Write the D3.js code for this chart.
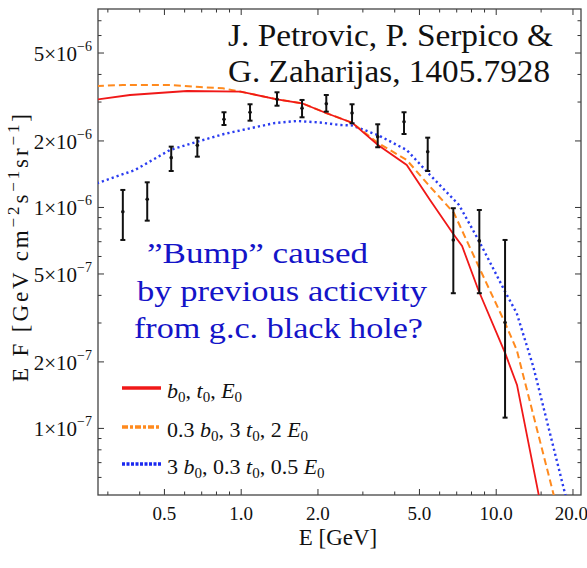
<!DOCTYPE html>
<html>
<head>
<meta charset="utf-8">
<script src="https://d3js.org/d3.v7.min.js"></script>
<style>
  body { margin: 0; background: #fff; }
  svg text { font-family: "Times New Roman", "Liberation Serif", Tinos, Times, serif; }
</style>
</head>
<body>
<script>
// measured points (E in GeV, E F in GeV cm^-2 s^-1 sr^-1)
const dataE   = [0.345, 0.430, 0.534, 0.676, 0.860, 1.088, 1.388, 1.740, 2.166, 2.733, 3.446, 4.370, 5.412, 6.82, 8.625, 10.88];
const dataF   = [0.952e-6, 1.083e-6, 1.672e-6, 1.902e-6, 2.494e-6, 2.683e-6, 3.071e-6, 2.80e-6, 2.934e-6, 2.663e-6, 2.080e-6, 2.432e-6, 1.779e-6, 0.709e-6, 0.702e-6, 0.30e-6];
const dataHi  = [1.194e-6, 1.293e-6, 1.875e-6, 2.059e-6, 2.683e-6, 2.916e-6, 3.304e-6, 3.05e-6, 3.212e-6, 2.916e-6, 2.367e-6, 2.683e-6, 2.059e-6, 0.987e-6, 0.969e-6, 0.709e-6];
const dataLo  = [0.709e-6, 0.867e-6, 1.455e-6, 1.689e-6, 2.350e-6, 2.458e-6, 2.873e-6, 2.546e-6, 2.700e-6, 2.392e-6, 1.863e-6, 2.139e-6, 1.455e-6, 0.407e-6, 0.407e-6, 0.1113e-6];

// model curves
const redE = [0.273, 0.368, 0.616, 1.0, 1.388, 1.740, 2.16, 2.733, 3.455, 4.477, 5.526, 6.82, 7.38, 8.55, 10.88, 12.12, 14.88];
const redF = [3.064e-6, 3.212e-6, 3.349e-6, 3.325e-6, 3.071e-6, 2.946e-6, 2.663e-6, 2.407e-6, 1.908e-6, 1.549e-6, 1.076e-6, 0.755e-6, 0.666e-6, 0.421e-6, 0.2184e-6, 0.1565e-6, 0.0472e-6];

const orangeE = [0.273, 0.345, 0.441, 0.528, 0.692, 0.852, 1.0, 1.388, 1.740, 2.16, 2.733, 3.455, 4.477, 5.526, 6.86, 8.625, 10.88, 12.09, 17.08];
const orangeF = [3.528e-6, 3.565e-6, 3.565e-6, 3.565e-6, 3.491e-6, 3.444e-6, 3.325e-6, 3.071e-6, 2.946e-6, 2.663e-6, 2.407e-6, 1.948e-6, 1.632e-6, 1.236e-6, 0.939e-6, 0.53e-6, 0.2986e-6, 0.2254e-6, 0.0472e-6];

const blueE = [0.273, 0.385, 0.528, 0.676, 0.860, 1.088, 1.363, 1.658, 2.046, 2.451, 2.733, 3.446, 4.477, 5.526, 7.18, 8.625, 10.88, 12.09, 14.04, 18.97];
const blueF = [1.28e-6, 1.47e-6, 1.811e-6, 1.975e-6, 2.139e-6, 2.27e-6, 2.399e-6, 2.449e-6, 2.412e-6, 2.35e-6, 2.338e-6, 2.117e-6, 1.811e-6, 1.396e-6, 1.021e-6, 0.697e-6, 0.414e-6, 0.3304e-6, 0.1894e-6, 0.0472e-6];

// axes
const xMajor = [0.5, 1, 2, 5, 10, 20];
const xMinor = [0.3, 0.4, 0.6, 0.7, 0.8, 0.9, 3, 4, 6, 7, 8, 9, 15];
const yMajor = [1e-7, 2e-7, 5e-7, 1e-6, 2e-6, 5e-6];
const yMinor = [6e-8, 7e-8, 8e-8, 9e-8, 3e-7, 4e-7, 6e-7, 7e-7, 8e-7, 9e-7, 3e-6, 4e-6, 6e-6, 7e-6];
const yMant  = ["1", "2", "5", "1", "2", "5"];
const yExp   = ["−7", "−7", "−7", "−6", "−6", "−6"];

const W = 587, H = 568;
const L = 98, R = 581, T = 9, B = 495;

const svg = d3.select("body").append("svg")
    .attr("width", W)
    .attr("height", H);

const x = d3.scaleLog().domain([0.2757, 21.6]).range([L, R]);
const y = d3.scaleLog().domain([4.97e-8, 7.87e-6]).range([B, T]);

svg.append("clipPath").attr("id", "clip")
  .append("rect").attr("x", L).attr("y", T).attr("width", R - L).attr("height", B - T);

// ticks, all pointing inward
function tickAxis(axis, vals, size, tr) {
  let g = svg.append("g").attr("transform", tr)
    .call(axis.tickValues(vals).tickSize(-size).tickFormat(""));
  g.select(".domain").remove();
  g.selectAll("line").attr("stroke", "#333");
  return g;
}
tickAxis(d3.axisBottom(x), xMinor, 3.5, `translate(0,${B})`);
tickAxis(d3.axisTop(x), xMajor, 6, `translate(0,${T})`);
tickAxis(d3.axisTop(x), xMinor, 3.5, `translate(0,${T})`);
tickAxis(d3.axisLeft(y), yMinor, 3.5, `translate(${L},0)`);
tickAxis(d3.axisRight(y), yMajor, 6, `translate(${R},0)`);
tickAxis(d3.axisRight(y), yMinor, 3.5, `translate(${R},0)`);

let gx = svg.append("g").attr("transform", `translate(0,${B})`)
  .call(d3.axisBottom(x).tickValues(xMajor).tickSize(-6).tickPadding(12).tickFormat(d3.format(".1f")));
gx.select(".domain").remove();
gx.selectAll("line").attr("stroke", "#333");
gx.selectAll("text").attr("font-size", 19).attr("fill", "#111")
  .filter(d => d == 20).attr("text-anchor", "end").attr("x", 15);

let gy = svg.append("g").attr("transform", `translate(${L},0)`)
  .call(d3.axisLeft(y).tickValues(yMajor).tickSize(-6).tickFormat(""));
gy.select(".domain").remove();
gy.selectAll("line").attr("stroke", "#333");
gy.selectAll(".tick").each(function(d, i) {
  let t = d3.select(this).append("text")
    .attr("x", -6).attr("y", 8)
    .attr("text-anchor", "end")
    .attr("fill", "#111")
    .attr("font-size", 21);
  t.append("tspan").text(yMant[i] + "×10");
  t.append("tspan").attr("dy", -10).attr("font-size", 14).text(yExp[i]);
});

// frame
svg.append("rect")
  .attr("x", L).attr("y", T).attr("width", R - L).attr("height", B - T)
  .attr("fill", "none").attr("stroke", "#444").attr("stroke-width", 1.3);

// axis titles
svg.append("text")
  .attr("x", 338).attr("y", 545)
  .attr("text-anchor", "middle").attr("font-size", 23).attr("fill", "#111")
  .text("E [GeV]");

let yl = svg.append("text")
  .attr("transform", "translate(28,248) rotate(-90)")
  .attr("text-anchor", "middle").attr("font-size", 23).attr("fill", "#111")
  .attr("textLength", 268).attr("lengthAdjust", "spacing");
yl.append("tspan").text("E F [GeV cm");
yl.append("tspan").attr("dy", -9).attr("font-size", 17).text("−2");
yl.append("tspan").attr("dy", 9).text("s");
yl.append("tspan").attr("dy", -9).attr("font-size", 17).text("−1");
yl.append("tspan").attr("dy", 9).text("sr");
yl.append("tspan").attr("dy", -9).attr("font-size", 17).text("−1");
yl.append("tspan").attr("dy", 9).text("]");

// curves
const line = d3.line().x(d => x(d[0])).y(d => y(d[1]));
const plot = svg.append("g").attr("clip-path", "url(#clip)");

plot.append("path").datum(d3.zip(blueE, blueF))
  .attr("d", line).attr("fill", "none")
  .attr("stroke", "#2a3cf0").attr("stroke-width", 2.4)
  .attr("stroke-dasharray", "2.2,3");

plot.append("path").datum(d3.zip(orangeE, orangeF))
  .attr("d", line).attr("fill", "none")
  .attr("stroke", "#ff8a1e").attr("stroke-width", 2)
  .attr("stroke-dasharray", "7,4");

plot.append("path").datum(d3.zip(redE, redF))
  .attr("d", line).attr("fill", "none")
  .attr("stroke", "#f01818").attr("stroke-width", 1.8);

// data points with error bars
const pts = dataE.map((e, i) => ({e: e, f: dataF[i], hi: dataHi[i], lo: dataLo[i]}));
const pg = plot.append("g").selectAll("g").data(pts).join("g");
pg.append("line")
  .attr("x1", d => x(d.e)).attr("x2", d => x(d.e))
  .attr("y1", d => y(d.hi)).attr("y2", d => y(d.lo))
  .attr("stroke", "#111").attr("stroke-width", 2);
pg.append("line")
  .attr("x1", d => x(d.e) - 2.5).attr("x2", d => x(d.e) + 2.5)
  .attr("y1", d => y(d.hi)).attr("y2", d => y(d.hi))
  .attr("stroke", "#111").attr("stroke-width", 2);
pg.append("line")
  .attr("x1", d => x(d.e) - 2.5).attr("x2", d => x(d.e) + 2.5)
  .attr("y1", d => y(d.lo)).attr("y2", d => y(d.lo))
  .attr("stroke", "#111").attr("stroke-width", 2);
pg.append("circle")
  .attr("cx", d => x(d.e)).attr("cy", d => y(d.f))
  .attr("r", 1.8).attr("fill", "#111");

// annotations
svg.append("text").attr("x", 228).attr("y", 46)
  .attr("font-size", 31).attr("fill", "#111")
  .attr("textLength", 325).attr("lengthAdjust", "spacingAndGlyphs")
  .text("J. Petrovic, P. Serpico &");
svg.append("text").attr("x", 228).attr("y", 82)
  .attr("font-size", 31).attr("fill", "#111")
  .attr("textLength", 322).attr("lengthAdjust", "spacingAndGlyphs")
  .text("G. Zaharijas, 1405.7928");

const note = [
  {s: "”Bump” caused", x: 147, y: 263, w: 221},
  {s: "by previous acticvity", x: 137, y: 301, w: 290},
  {s: "from g.c. black hole?", x: 134, y: 338, w: 289}
];
svg.selectAll("text.note").data(note).join("text")
  .attr("class", "note")
  .attr("x", d => d.x).attr("y", d => d.y)
  .attr("font-size", 30).attr("fill", "#1414c8")
  .attr("textLength", d => d.w).attr("lengthAdjust", "spacingAndGlyphs")
  .text(d => d.s);

// legend
const legRows = [
  {y: 388, color: "#f01818", dash: null, w: 3.5,
   parts: [["b", 1], ["0", 2], [", ", 0], ["t", 1], ["0", 2], [", ", 0], ["E", 1], ["0", 2]]},
  {y: 427, color: "#ff8a1e", dash: "6,2,3,2", w: 3.5,
   parts: [["0.3 ", 0], ["b", 1], ["0", 2], [", 3 ", 0], ["t", 1], ["0", 2], [", 2 ", 0], ["E", 1], ["0", 2]]},
  {y: 464, color: "#1a28f0", dash: "3,1.5", w: 3.5,
   parts: [["3 ", 0], ["b", 1], ["0", 2], [", 0.3 ", 0], ["t", 1], ["0", 2], [", 0.5 ", 0], ["E", 1], ["0", 2]]}
];
legRows.forEach(r => {
  svg.append("line")
    .attr("x1", 122).attr("x2", 161).attr("y1", r.y).attr("y2", r.y)
    .attr("stroke", r.color).attr("stroke-width", r.w)
    .attr("stroke-dasharray", r.dash);
  let t = svg.append("text").attr("x", 167).attr("y", r.y + 10)
    .attr("font-size", 22).attr("fill", "#111");
  let sub = false;
  r.parts.forEach(p => {
    let ts = t.append("tspan").text(p[0]);
    if (p[1] == 1) ts.attr("font-style", "italic");
    if (p[1] == 2 && !sub) { ts.attr("dy", 4).attr("font-size", 15); sub = true; }
    else if (p[1] != 2 && sub) { ts.attr("dy", -4); sub = false; }
    else if (p[1] == 2) ts.attr("font-size", 15);
  });
});
</script>
</body>
</html>
